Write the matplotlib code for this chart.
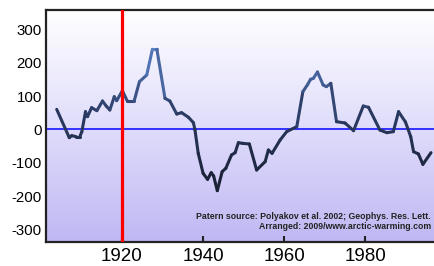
import numpy as np
import matplotlib
matplotlib.use("Agg")
import matplotlib.pyplot as plt
from matplotlib.collections import LineCollection
from matplotlib.colors import LinearSegmentedColormap

years = [1903.9, 1907.0, 1907.6, 1908.7, 1909.6, 1910.1, 1911.0, 1911.5, 1912.5, 1913.8,
         1915.2, 1916.1, 1917.0, 1918.1, 1918.7, 1920.1, 1921.3, 1923.0, 1924.3, 1926.1,
         1927.5, 1928.6, 1930.6, 1931.8, 1933.5, 1934.7, 1936.4, 1937.6, 1938.0, 1938.8,
         1940.0, 1941.1, 1942.0, 1942.6, 1943.5, 1944.7, 1945.6, 1947.0, 1947.9, 1948.7,
         1949.7, 1951.4, 1953.2, 1955.3, 1956.1, 1957.0, 1959.0, 1960.6, 1963.1, 1964.6,
         1965.7, 1966.5, 1967.2, 1968.2, 1969.6, 1970.4, 1971.5, 1972.9, 1975.0, 1977.1,
         1979.5, 1980.8, 1983.6, 1985.3, 1986.9, 1988.2, 1989.9, 1991.2, 1991.9, 1993.1,
         1994.2, 1996.2]
values = [60, -25, -19, -22, -22, -7, 53, 38, 65, 56,
          85, 70, 58, 98, 86, 116, 85, 85, 143, 163,
          240, 240, 93, 85, 46, 50, 36, 20, -2, -72,
          -132, -150, -130, -140, -184, -127, -117, -77, -70, -40,
          -42, -44, -122, -97, -62, -72, -32, -7, 8, 113,
          133, 150, 153, 172, 133, 128, 138, 23, 19, -4,
          70, 66, -2, -10, -7, 53, 22, -22, -67, -74,
          -105, -70]

ytick_vals = [300, 200, 100, 0, -100, -200, -300]
xtick_vals = [1920, 1940, 1960, 1980]
marker_year = 1920
source_text = "Patern source: Polyakov et al. 2002; Geophys. Res. Lett."
arranged_text = "Arranged: 2009/www.arctic-warming.com"

fig = plt.figure(figsize=(4.34, 2.66), dpi=100)
ax = fig.add_axes([46/434, 1 - 242/266, 1 - 46/434, (242 - 10)/266])
x0, x1 = 1901.26, 1996.94
y0, y1 = -338, 358
ax.set_xlim(x0, x1)
ax.set_ylim(y0, y1)

# background gradient
bg = LinearSegmentedColormap.from_list("bg", ["#bfb8f3", "#e0ddfb", "#ffffff"])
grad = np.linspace(0, 1, 256).reshape(-1, 1)
ax.imshow(grad, cmap=bg, origin="lower", extent=[x0, x1, y0, y1],
          aspect="auto", zorder=0, interpolation="bilinear")

# zero line
ax.axhline(0, color="#1515ff", lw=1.2, zorder=2)

# curve with colour varying with value
pts = np.array([years, values], dtype=float).T.reshape(-1, 1, 2)
segs = np.concatenate([pts[:-1], pts[1:]], axis=1)
mid = (np.array(values[:-1]) + np.array(values[1:])) / 2
lc_cmap = LinearSegmentedColormap.from_list("ln", ["#1b2236", "#2a3a62", "#5a80c6"])
lc = LineCollection(segs, cmap=lc_cmap, norm=plt.Normalize(-150, 240),
                    linewidths=2.2, capstyle="round", joinstyle="round", zorder=3)
lc.set_array(mid)
ax.add_collection(lc)

# red marker line
ax.axvline(marker_year, color="#ff0000", lw=2.3, zorder=4)

# spines
for s in ["left", "top", "bottom"]:
    ax.spines[s].set_linewidth(1.6)
    ax.spines[s].set_color("#222222")
ax.spines["right"].set_visible(False)

ax.set_yticks(ytick_vals)
ax.set_yticklabels([str(v) for v in ytick_vals], fontsize=10.8, family="Liberation Sans")
ax.tick_params(axis="y", length=0, pad=3)
ax.set_xticks(xtick_vals)
ax.set_xticklabels([str(v) for v in xtick_vals], fontsize=13.5, family="Liberation Sans")
ax.tick_params(axis="x", direction="in", length=4, width=1.5, pad=4, color="#222222")

ax.text(0.992, 0.10, source_text, transform=ax.transAxes, ha="right", va="baseline",
        fontsize=6.3, family="Liberation Sans", weight="bold", color="#222222", zorder=5)
ax.text(0.992, 0.056, arranged_text, transform=ax.transAxes, ha="right", va="baseline",
        fontsize=6.3, family="Liberation Sans", weight="bold", color="#222222", zorder=5)

fig.savefig("out.png", dpi=100)
